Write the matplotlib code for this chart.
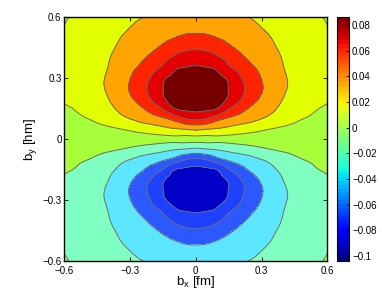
import numpy as np
import matplotlib
matplotlib.use("Agg")
import matplotlib.pyplot as plt
import matplotlib.tri as mtri
from matplotlib.colors import Normalize
from matplotlib.cm import ScalarMappable

# grid of the field
bx = [-0.6, -0.55, -0.5, -0.45, -0.4, -0.35, -0.3, -0.25, -0.2, -0.15, -0.1, -0.05, 0.0,
      0.05, 0.1, 0.15, 0.2, 0.25, 0.3, 0.35, 0.4, 0.45, 0.5, 0.55, 0.6]
by = [-0.6, -0.55, -0.5, -0.45, -0.4, -0.35, -0.3, -0.25, -0.2, -0.15, -0.1, -0.05, 0.0,
      0.05, 0.1, 0.15, 0.2, 0.25, 0.3, 0.35, 0.4, 0.45, 0.5, 0.55, 0.6]

# rows follow by (bottom to top), columns follow bx
density = [
    [-0.0192, -0.0214, -0.0244, -0.0273, -0.0303, -0.0333, -0.0363, -0.0394, -0.0415, -0.0435, -0.0449, -0.0457, -0.046,
     -0.0457, -0.0449, -0.0435, -0.0415, -0.0394, -0.0363, -0.0333, -0.0303, -0.0273, -0.0244, -0.0214, -0.0192],
    [-0.0205, -0.0237, -0.0269, -0.0301, -0.0333, -0.0365, -0.040, -0.0439, -0.0475, -0.0505, -0.0525, -0.0536, -0.054,
     -0.0536, -0.0525, -0.0505, -0.0475, -0.0439, -0.040, -0.0365, -0.0333, -0.0301, -0.0269, -0.0237, -0.0205],
    [-0.0228, -0.0261, -0.0295, -0.0328, -0.0361, -0.0395, -0.0434, -0.0474, -0.0515, -0.0555, -0.0596, -0.0636, -0.065,
     -0.0636, -0.0596, -0.0555, -0.0515, -0.0474, -0.0434, -0.0395, -0.0361, -0.0328, -0.0295, -0.0261, -0.0228],
    [-0.024, -0.0274, -0.0308, -0.0342, -0.0377, -0.0416, -0.0467, -0.0518, -0.0569, -0.0636, -0.0714, -0.076, -0.0775,
     -0.076, -0.0714, -0.0636, -0.0569, -0.0518, -0.0467, -0.0416, -0.0377, -0.0342, -0.0308, -0.0274, -0.024],
    [-0.025, -0.0284, -0.0318, -0.0353, -0.0391, -0.0447, -0.0508, -0.0569, -0.0645, -0.0736, -0.0827, -0.0889, -0.091,
     -0.0889, -0.0827, -0.0736, -0.0645, -0.0569, -0.0508, -0.0447, -0.0391, -0.0353, -0.0318, -0.0284, -0.025],
    [-0.0255, -0.029, -0.0325, -0.0362, -0.0403, -0.0479, -0.0555, -0.064, -0.074, -0.0838, -0.0968, -0.101, -0.1023,
     -0.101, -0.0968, -0.0838, -0.074, -0.064, -0.0555, -0.0479, -0.0403, -0.0362, -0.0325, -0.029, -0.0255],
    [-0.025, -0.0288, -0.0328, -0.037, -0.0421, -0.0509, -0.0596, -0.0709, -0.0823, -0.097, -0.1038, -0.1079, -0.1093,
     -0.1079, -0.1038, -0.097, -0.0823, -0.0709, -0.0596, -0.0509, -0.0421, -0.037, -0.0328, -0.0288, -0.025],
    [-0.024, -0.028, -0.032, -0.0365, -0.0423, -0.0517, -0.0614, -0.0733, -0.0859, -0.0996, -0.1065, -0.1106, -0.112,
     -0.1106, -0.1065, -0.0996, -0.0859, -0.0733, -0.0614, -0.0517, -0.0423, -0.0365, -0.032, -0.028, -0.024],
    [-0.0215, -0.0258, -0.0302, -0.0348, -0.0397, -0.0484, -0.0573, -0.0691, -0.0823, -0.098, -0.1048, -0.109, -0.1103,
     -0.109, -0.1048, -0.098, -0.0823, -0.0691, -0.0573, -0.0484, -0.0397, -0.0348, -0.0302, -0.0258, -0.0215],
    [-0.0185, -0.0208, -0.026, -0.0313, -0.0365, -0.0424, -0.0499, -0.0573, -0.0681, -0.0809, -0.0989, -0.103, -0.1044,
     -0.103, -0.0989, -0.0809, -0.0681, -0.0573, -0.0499, -0.0424, -0.0365, -0.0313, -0.026, -0.0208, -0.0185],
    [-0.016, -0.0175, -0.0194, -0.0234, -0.029, -0.0345, -0.040, -0.0457, -0.0514, -0.0571, -0.0662, -0.0788, -0.083,
     -0.0788, -0.0662, -0.0571, -0.0514, -0.0457, -0.040, -0.0345, -0.029, -0.0234, -0.0194, -0.0175, -0.016],
    [-0.0135, -0.014, -0.0145, -0.0155, -0.017, -0.0195, -0.023, -0.027, -0.0305, -0.0345, -0.0385, -0.041, -0.044,
     -0.041, -0.0385, -0.0345, -0.0305, -0.027, -0.023, -0.0195, -0.017, -0.0155, -0.0145, -0.014, -0.0135],
    [-0.010, -0.010, -0.010, -0.010, -0.010, -0.010, -0.010, -0.010, -0.010, -0.010, -0.010, -0.010, -0.010,
     -0.010, -0.010, -0.010, -0.010, -0.010, -0.010, -0.010, -0.010, -0.010, -0.010, -0.010, -0.010],
    [-0.0065, -0.006, -0.0055, -0.0045, -0.003, -0.0005, 0.003, 0.007, 0.0105, 0.0145, 0.0185, 0.021, 0.024,
     0.021, 0.0185, 0.0145, 0.0105, 0.007, 0.003, -0.0005, -0.003, -0.0045, -0.0055, -0.006, -0.0065],
    [-0.004, -0.0025, -0.0006, 0.0034, 0.009, 0.0145, 0.020, 0.0257, 0.0314, 0.0371, 0.0462, 0.0588, 0.063,
     0.0588, 0.0462, 0.0371, 0.0314, 0.0257, 0.020, 0.0145, 0.009, 0.0034, -0.0006, -0.0025, -0.004],
    [-0.0015, 0.0008, 0.006, 0.0113, 0.0165, 0.0224, 0.0299, 0.0373, 0.0481, 0.0609, 0.0789, 0.083, 0.0844,
     0.083, 0.0789, 0.0609, 0.0481, 0.0373, 0.0299, 0.0224, 0.0165, 0.0113, 0.006, 0.0008, -0.0015],
    [0.0015, 0.0058, 0.0102, 0.0148, 0.0197, 0.0284, 0.0373, 0.0491, 0.0623, 0.078, 0.0848, 0.089, 0.0903,
     0.089, 0.0848, 0.078, 0.0623, 0.0491, 0.0373, 0.0284, 0.0197, 0.0148, 0.0102, 0.0058, 0.0015],
    [0.004, 0.008, 0.012, 0.0165, 0.0223, 0.0317, 0.0414, 0.0533, 0.0659, 0.0796, 0.0865, 0.0906, 0.092,
     0.0906, 0.0865, 0.0796, 0.0659, 0.0533, 0.0414, 0.0317, 0.0223, 0.0165, 0.012, 0.008, 0.004],
    [0.005, 0.0088, 0.0128, 0.017, 0.0221, 0.0309, 0.0396, 0.0509, 0.0623, 0.077, 0.0838, 0.0879, 0.0893,
     0.0879, 0.0838, 0.077, 0.0623, 0.0509, 0.0396, 0.0309, 0.0221, 0.017, 0.0128, 0.0088, 0.005],
    [0.0055, 0.009, 0.0125, 0.0162, 0.0203, 0.0279, 0.0355, 0.044, 0.054, 0.0638, 0.0768, 0.081, 0.0823,
     0.081, 0.0768, 0.0638, 0.054, 0.044, 0.0355, 0.0279, 0.0203, 0.0162, 0.0125, 0.009, 0.0055],
    [0.005, 0.0084, 0.0118, 0.0153, 0.0191, 0.0247, 0.0308, 0.0369, 0.0445, 0.0536, 0.0627, 0.0689, 0.071,
     0.0689, 0.0627, 0.0536, 0.0445, 0.0369, 0.0308, 0.0247, 0.0191, 0.0153, 0.0118, 0.0084, 0.005],
    [0.004, 0.0074, 0.0108, 0.0142, 0.0177, 0.0216, 0.0267, 0.0318, 0.0369, 0.0436, 0.0514, 0.056, 0.0575,
     0.056, 0.0514, 0.0436, 0.0369, 0.0318, 0.0267, 0.0216, 0.0177, 0.0142, 0.0108, 0.0074, 0.004],
    [0.0028, 0.0061, 0.0095, 0.0128, 0.0161, 0.0195, 0.0234, 0.0274, 0.0315, 0.0355, 0.0396, 0.0436, 0.045,
     0.0436, 0.0396, 0.0355, 0.0315, 0.0274, 0.0234, 0.0195, 0.0161, 0.0128, 0.0095, 0.0061, 0.0028],
    [0.0005, 0.0037, 0.0069, 0.0101, 0.0133, 0.0165, 0.020, 0.0239, 0.0275, 0.0305, 0.0325, 0.0336, 0.034,
     0.0336, 0.0325, 0.0305, 0.0275, 0.0239, 0.020, 0.0165, 0.0133, 0.0101, 0.0069, 0.0037, 0.0005],
    [-0.0008, 0.0014, 0.0044, 0.0073, 0.0103, 0.0133, 0.0163, 0.0194, 0.0215, 0.0235, 0.0249, 0.0257, 0.026,
     0.0257, 0.0249, 0.0235, 0.0215, 0.0194, 0.0163, 0.0133, 0.0103, 0.0073, 0.0044, 0.0014, -0.0008],
]

levels = [-0.1, -0.08, -0.06, -0.04, -0.02, 0.0, 0.02, 0.04, 0.06, 0.08]
color_limits = (-0.104, 0.086)

axis_ticks = [-0.6, -0.3, 0, 0.3, 0.6]
axis_ticklabels = ["\u22120.6", "\u22120.3", "0", "0.3", "0.6"]
cbar_ticks = [-0.1, -0.08, -0.06, -0.04, -0.02, 0.0, 0.02, 0.04, 0.06, 0.08]
cbar_ticklabels = ["\u22120.1", "\u22120.08", "\u22120.06", "\u22120.04", "\u22120.02",
                   "0", "0.02", "0.04", "0.06", "0.08"]

# one colour per band, under-range first, over-range last
band_colors = ["#0000c8", "#1e40ff", "#2c58ff", "#5ce6ff", "#80ffc2", "#a6ff3a",
               "#e2ff00", "#ffa400", "#ff2400", "#e40000", "#760000"]

plt.rcParams["font.family"] = ["Liberation Sans", "DejaVu Sans"]


def grid_triangles(nx, ny, xs):
    """Two triangles per grid cell, diagonals mirrored about x = 0."""
    tris = []
    for j in range(ny - 1):
        for i in range(nx - 1):
            p00 = j * nx + i
            p10 = p00 + 1
            p01 = p00 + nx
            p11 = p01 + 1
            if xs[i] >= 0:
                tris += [[p00, p10, p11], [p00, p11, p01]]
            else:
                tris += [[p00, p10, p01], [p10, p11, p01]]
    return tris


fig = plt.figure(figsize=(3.82, 3.0), dpi=100)
ax = fig.add_axes([0.1683, 0.13, 0.6885, 0.8123])
cax = fig.add_axes([0.8814, 0.13, 0.033, 0.8123])

X, Y = np.meshgrid(bx, by)
Z = np.array(density)
tri = mtri.Triangulation(X.ravel(), Y.ravel(), grid_triangles(len(bx), len(by), bx))
interp = mtri.CubicTriInterpolator(tri, Z.ravel(), kind="min_E")
refiner = mtri.UniformTriRefiner(tri)
tri_fine, z_fine = refiner.refine_field(Z.ravel(), triinterpolator=interp, subdiv=3)

ax.tricontourf(tri_fine, z_fine, levels=levels, colors=band_colors, extend="both")
ax.tricontour(tri_fine, z_fine, levels=levels, colors="#6c6c6c",
              linewidths=0.7, linestyles="solid")

ax.set_xlim(-0.6, 0.6)
ax.set_ylim(-0.6, 0.6)
ax.set_xticks(axis_ticks)
ax.set_xticklabels(axis_ticklabels)
ax.set_yticks(axis_ticks)
ax.set_yticklabels(axis_ticklabels)
ax.tick_params(direction="in", length=3, width=0.6, labelsize=7, pad=2,
               top=True, right=True)
ax.tick_params(axis="x", pad=3.5)
for spine in ax.spines.values():
    spine.set_linewidth(1.0)

ax.set_xlabel("b$_\\mathregular{x}$ [fm]", fontsize=9.5, labelpad=-1)
ax.set_ylabel("b$_\\mathregular{y}$ [hm]", fontsize=9.5, labelpad=2)

sm = ScalarMappable(norm=Normalize(*color_limits), cmap=plt.get_cmap("jet", 64))
cb = fig.colorbar(sm, cax=cax, ticks=cbar_ticks)
cb.ax.set_yticklabels(cbar_ticklabels)
cb.ax.tick_params(direction="in", length=2.5, width=0.6, labelsize=7, pad=2)
cb.outline.set_linewidth(0.8)

fig.savefig("out.png", dpi=100)
